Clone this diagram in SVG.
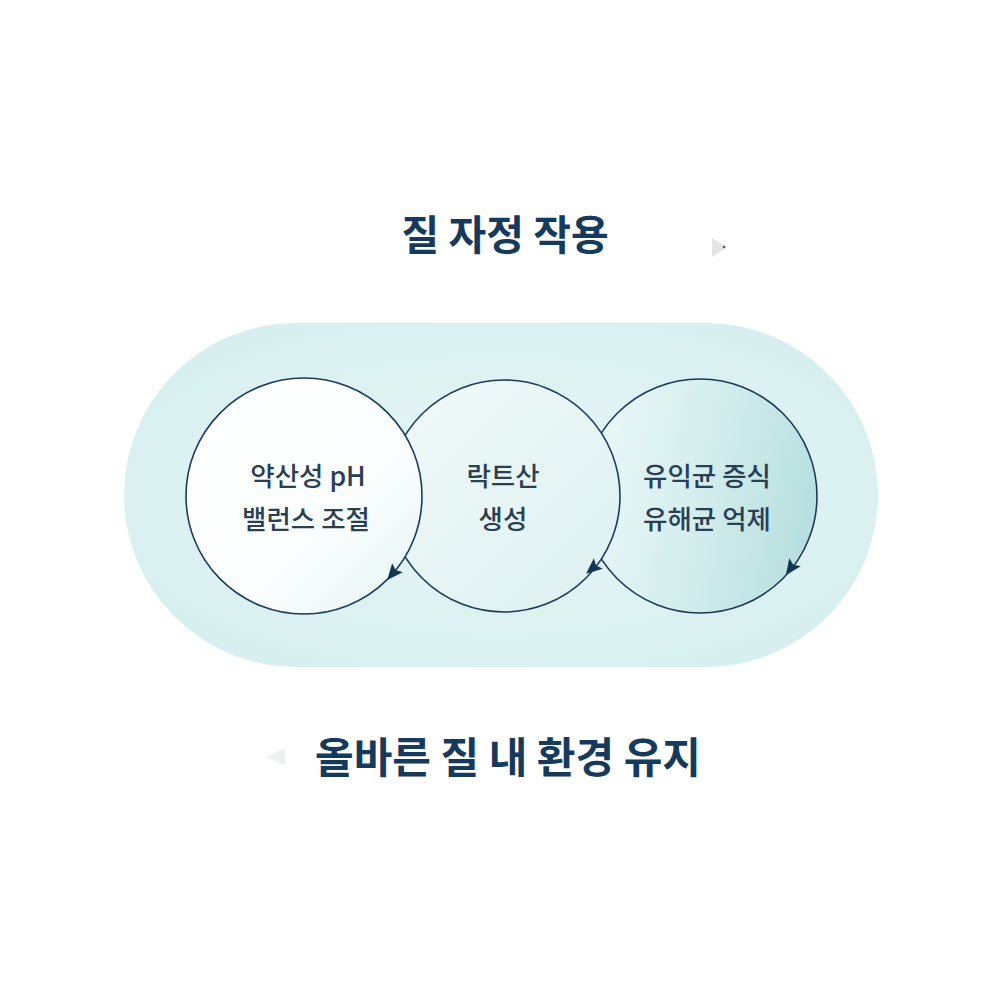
<svg xmlns="http://www.w3.org/2000/svg" xmlns:xlink="http://www.w3.org/1999/xlink" width="1000" height="1000" viewBox="0 0 1000 1000">
  <style>
    .title { font-family: "Noto Sans CJK KR", "Noto Sans", sans-serif; font-weight: 700; fill: #163a5c; text-anchor: middle; }
    .label { font-family: "Noto Sans CJK KR", "Noto Sans", sans-serif; font-weight: 500; font-size: 26.5px; fill: #2a3e54; text-anchor: middle; }
    .ring { stroke: #1d3a5a; stroke-width: 1.6; }
    .arrow { fill: #143656; }
  </style>
  <defs>
    <radialGradient id="bgGrad" cx="0.5" cy="0.5" r="0.6">
      <stop offset="0" stop-color="#e8f6f6"/>
      <stop offset="1" stop-color="#d7eff0"/>
    </radialGradient>
    <linearGradient id="c1Grad" x1="0" y1="0" x2="1" y2="1">
      <stop offset="0" stop-color="#ffffff"/>
      <stop offset="0.6" stop-color="#fbfefe"/>
      <stop offset="1" stop-color="#e4f4f4"/>
    </linearGradient>
    <linearGradient id="c2Grad" x1="0" y1="0" x2="1" y2="1">
      <stop offset="0" stop-color="#f2fafa"/>
      <stop offset="1" stop-color="#dcf0f0"/>
    </linearGradient>
    <linearGradient id="c3Grad" x1="0" y1="0.2" x2="1" y2="0.4">
      <stop offset="0" stop-color="#ecf8f8"/>
      <stop offset="0.5" stop-color="#d6eeee"/>
      <stop offset="1" stop-color="#b8e0e0"/>
    </linearGradient>
    <path id="arrowhead" d="M 9 0 L -7 -7 L -4 0 L -7 7 Z"/>
  </defs>

  <rect width="1000" height="1000" fill="#ffffff"/>

  <g id="title-top">
    <text class="title" x="505" y="250" font-size="41">질 자정 작용</text>
  </g>
  <g id="deco-top">
    <polygon points="712,238 728,247 712,257" fill="#e4e6e6"/>
    <circle cx="724" cy="247" r="1.2" fill="#555"/>
  </g>

  <g id="background">
    <rect x="124" y="323" width="754" height="344" rx="172" ry="172" fill="url(#bgGrad)"/>
  </g>

  <g id="node-3">
    <circle class="ring" cx="700" cy="496" r="117" fill="url(#c3Grad)"/>
    <text class="label" x="707" y="486">유익균 증식</text>
    <text class="label" x="707" y="529">유해균 억제</text>
  </g>
  <g id="node-2">
    <circle class="ring" cx="504" cy="496" r="116" fill="url(#c2Grad)"/>
    <text class="label" x="503" y="486">락트산</text>
    <text class="label" x="503" y="529">생성</text>
  </g>
  <g id="node-1">
    <circle class="ring" cx="304" cy="496" r="118" fill="url(#c1Grad)"/>
    <text class="label" x="308" y="486">약산성 pH</text>
    <text class="label" x="306" y="529">밸런스 조절</text>
  </g>

  <g id="connectors">
    <use xlink:href="#arrowhead" class="arrow" transform="translate(393,573) rotate(130)"/>
    <use xlink:href="#arrowhead" class="arrow" transform="translate(593,568) rotate(140)"/>
    <use xlink:href="#arrowhead" class="arrow" transform="translate(791,568) rotate(125)"/>
  </g>

  <g id="title-bottom">
    <text class="title" x="508" y="773" font-size="42">올바른 질 내 환경 유지</text>
  </g>
  <g id="deco-bottom">
    <polygon points="285,748 266,757 285,766" fill="#eef0f0"/>
  </g>
</svg>
